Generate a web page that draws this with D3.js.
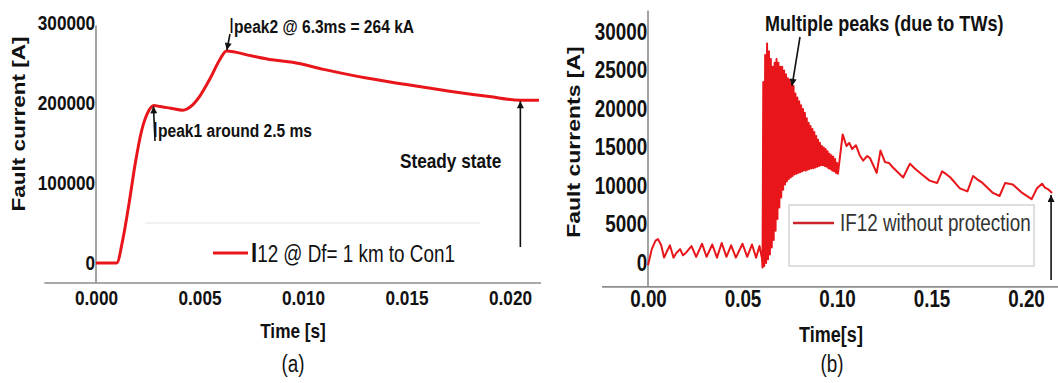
<!DOCTYPE html>
<html>
<head>
<meta charset="utf-8">
<script src="https://cdn.jsdelivr.net/npm/d3@7"></script>
<style>
  body { margin: 0; background: #fff; }
  svg text { font-family: 'Liberation Sans', Arial, sans-serif; fill: #111; }
</style>
</head>
<body>
<div id="chart"></div>
<script>
// ---- panel (a): I12 @ Df = 1 km to Con1 ----
const aTime = [0, 0.0010, 0.0013, 0.0016, 0.0019, 0.0022, 0.0025, 0.0028, 0.0031, 0.0036, 0.0042,
  0.0046, 0.0050, 0.0055, 0.0060, 0.0063, 0.0075, 0.0085, 0.0095, 0.0110, 0.0130, 0.0150,
  0.0170, 0.0190, 0.0205, 0.0214];
const aCurrent = [0, 0, 30000, 75000, 125000, 165000, 188000, 197000, 195500, 193500, 191000,
  196000, 208000, 230000, 255000, 265000, 259000, 254000, 251000, 242000, 231500, 223000,
  215000, 208000, 203500, 203500];
const aXTicks = [0, 0.005, 0.010, 0.015, 0.020];
const aYTicks = [0, 100000, 200000, 300000];

// ---- panel (b): IF12 without protection ----
const bPreTime = [0, 0.0020, 0.0040, 0.0053, 0.0070, 0.0085, 0.0100, 0.0116, 0.0135, 0.0150,
  0.0170, 0.0185, 0.0200, 0.0230, 0.0255, 0.0286, 0.0310, 0.0340, 0.0365, 0.0390, 0.0415,
  0.0440, 0.0465, 0.0500, 0.0525, 0.0550, 0.0572, 0.0590, 0.0603, 0.0606];
const bPreCurrent = [-300, 1800, 2900, 3100, 2300, 700, 1500, 2300, 700, 1300,
  1800, 1000, 1300, 2200, 800, 2500, 800, 2400, 700, 2600, 800,
  2300, 700, 2500, 800, 2400, 700, 2200, 600, -600];

const bBurstTime = [0.0610, 0.0615, 0.0620, 0.0625, 0.0630, 0.0635, 0.0640, 0.0645, 0.0650, 0.0655,
  0.0660, 0.0665, 0.0670, 0.0675, 0.0680, 0.0685, 0.0690, 0.0695, 0.0700, 0.0705,
  0.0710, 0.0715, 0.0720, 0.0725, 0.0730, 0.0735, 0.0740, 0.0745, 0.0750, 0.0755,
  0.0760, 0.0765, 0.0770, 0.0775, 0.0780, 0.0785, 0.0790, 0.0795, 0.0800, 0.0805,
  0.0810, 0.0815, 0.0820, 0.0825, 0.0830, 0.0835, 0.0840, 0.0845, 0.0850, 0.0855,
  0.0860, 0.0865, 0.0870, 0.0875, 0.0880, 0.0885, 0.0890, 0.0895, 0.0900, 0.0905,
  0.0910, 0.0915, 0.0920, 0.0925, 0.0930, 0.0935, 0.0940, 0.0945, 0.0950, 0.0955,
  0.0960, 0.0965, 0.0970, 0.0975, 0.0980, 0.0985, 0.0990, 0.0995, 0.1000];
const bBurstCurrent = [23500, -400, 27000, 0, 28500, 500, 27500, 1100, 26500, 2000,
  25500, 3000, 26000, 4200, 26500, 5700, 26000, 7200, 25500, 8500,
  25500, 9500, 25000, 10200, 24500, 10600, 24000, 10900, 23800, 11100,
  23300, 11300, 23000, 11500, 22000, 11600, 21500, 11700, 21000, 11800,
  20500, 11900, 20000, 12000, 19500, 12000, 18800, 12100, 18200, 12200,
  17800, 12300, 17400, 12300, 17000, 12400, 16500, 12500, 16000, 12600,
  15600, 12700, 15200, 12700, 15000, 12600, 14800, 12500, 14500, 12300,
  14200, 12200, 14000, 12000, 13800, 11900, 13500, 11700, 13000];

const bPostTime = [0.1005, 0.1030, 0.1050, 0.1065, 0.1080, 0.1100, 0.1120, 0.1138, 0.1160, 0.1175,
  0.1210, 0.1230, 0.1254, 0.1275, 0.1296, 0.1350, 0.1386, 0.1410, 0.1440, 0.1490,
  0.1530, 0.1556, 0.1580, 0.1600, 0.1650, 0.1690, 0.1720, 0.1740, 0.1770, 0.1825,
  0.1860, 0.1890, 0.1930, 0.1980, 0.2030, 0.2058, 0.2085, 0.2100, 0.2116, 0.2138];
const bPostCurrent = [11600, 16700, 15200, 15600, 14800, 15300, 14000, 13300, 13900, 13600,
  11700, 14600, 13100, 13000, 12400, 11100, 12900, 12300, 11700, 10700,
  10400, 11900, 11500, 11100, 9700, 9300, 11300, 10900, 10400, 9100,
  8700, 10400, 10200, 9100, 8300, 9700, 10300, 9800, 9600, 9100];
const bXTicks = [0, 0.05, 0.10, 0.15, 0.20];
const bYTicks = [0, 5000, 10000, 15000, 20000, 25000, 30000];

const W = 1058, H = 383;
const SQ = 0.82; // the source figure is squeezed horizontally
const RED = '#e8161b';
const AXIS = '#8c8c8c';

const svg = d3.select('#chart').append('svg')
  .attr('width', W)
  .attr('height', H);

const defs = svg.append('defs');
defs.append('marker')
  .attr('id', 'arrow')
  .attr('viewBox', '0 0 10 10')
  .attr('refX', 10).attr('refY', 5)
  .attr('markerWidth', 10).attr('markerHeight', 7)
  .attr('markerUnits', 'userSpaceOnUse')
  .attr('orient', 'auto')
  .append('path')
  .attr('d', 'M0,0 L10,5 L0,10 z')
  .attr('fill', '#111');

// horizontal text, squeezed like the source
function label(x, y, txt, size, opts = {}) {
  const t = svg.append('text')
    .attr('transform', `translate(${x},${y}) scale(${SQ},1)`)
    .attr('font-size', size)
    .attr('font-weight', opts.weight || 'bold')
    .attr('text-anchor', opts.anchor || 'start');
  if (opts.fill) t.style('fill', opts.fill);
  if (txt !== null) t.text(txt);
  return t;
}

function yLabel(x, y, txt, size) {
  svg.append('text')
    .attr('transform', `translate(${x},${y}) rotate(-90) scale(1,${SQ})`)
    .attr('font-size', size)
    .attr('font-weight', 'bold')
    .attr('text-anchor', 'middle')
    .text(txt);
}

function arrow(x1, y1, x2, y2) {
  svg.append('line')
    .attr('x1', x1).attr('y1', y1)
    .attr('x2', x2).attr('y2', y2)
    .attr('stroke', '#111')
    .attr('stroke-width', 1.6)
    .attr('marker-end', 'url(#arrow)');
}

function drawAxes(x, y, xTicks, yTicks, xFmt, fontSize, xPad, xExt, yExt) {
  const g = svg.append('g');
  // axis lines (they run past the tick range like in the source)
  g.append('line')
    .attr('x1', x(xExt[0])).attr('x2', x(xExt[1]))
    .attr('y1', y(yExt[0])).attr('y2', y(yExt[0]))
    .attr('stroke', AXIS).attr('stroke-width', 1.6);
  g.append('line')
    .attr('x1', x(0)).attr('x2', x(0))
    .attr('y1', y(yExt[0])).attr('y2', y(yExt[1]))
    .attr('stroke', AXIS).attr('stroke-width', 1.6);

  const xa = g.append('g')
    .attr('transform', `translate(0,${y(yExt[0])})`)
    .call(d3.axisBottom(x).tickValues(xTicks).tickSize(0).tickPadding(xPad).tickFormat(xFmt));
  const ya = g.append('g')
    .attr('transform', `translate(${x(0)},0)`)
    .call(d3.axisLeft(y).tickValues(yTicks).tickSize(0).tickPadding(1).tickFormat(d3.format('d')));
  [xa, ya].forEach(a => {
    a.select('.domain').remove();
    a.selectAll('text')
      .attr('font-size', fontSize)
      .attr('font-weight', 'bold')
      .attr('font-family', null)
      .attr('transform', `scale(${SQ},1)`);
    a.attr('font-family', null).attr('font-size', null);
  });
}

// ================= panel (a) =================
const ax = d3.scaleLinear().domain([0, 0.02]).range([96, 510]);
const ay = d3.scaleLinear().domain([0, 300000]).range([263, 23]);

drawAxes(ax, ay, aXTicks, aYTicks, d3.format('.3f'), 21, 7, [-0.0025, 0.0215], [-25000, 297000]);

// legend frame top edge
svg.append('line')
  .attr('x1', 145).attr('x2', 480)
  .attr('y1', 223).attr('y2', 223)
  .attr('stroke', '#ececec').attr('stroke-width', 1.5);

const aData = aTime.map((t, i) => ({ t, v: aCurrent[i] }));
svg.append('path')
  .datum(aData)
  .attr('fill', 'none')
  .attr('stroke', RED)
  .attr('stroke-width', 3)
  .attr('stroke-linejoin', 'round')
  .attr('d', d3.line().x(d => ax(d.t)).y(d => ay(d.v)).curve(d3.curveMonotoneX));

// legend (a)
svg.append('line')
  .attr('x1', 213).attr('x2', 248)
  .attr('y1', 253).attr('y2', 253)
  .attr('stroke', RED).attr('stroke-width', 3);
const la = label(251, 262, null, 23, { weight: 'normal' });
la.append('tspan').attr('font-size', 27).attr('font-weight', 'bold').text('I');
la.append('tspan').text('12 @ Df= 1 km to Con1');

// annotations (a)
const pk2 = aData[15];
const p2 = label(229, 33, null, 19);
p2.append('tspan').attr('font-size', 22).attr('font-weight', 'normal').text('I');
p2.append('tspan').text('peak2 @ 6.3ms = 264 kA');
arrow(230, 34, ax(pk2.t) + 0.5, ay(pk2.v) - 1);

const pk1 = aData[7];
const p1 = label(153, 137, null, 19);
p1.append('tspan').attr('font-size', 22).attr('font-weight', 'normal').text('I');
p1.append('tspan').text('peak1 around 2.5 ms');
arrow(155, 141, ax(pk1.t) - 0.5, ay(pk1.v) + 1);

label(400, 168, 'Steady state', 21);
const ss = aData[aData.length - 2];
arrow(ax(ss.t), 247, ax(ss.t), ay(ss.v) + 1);

label(293, 338, 'Time [s]', 21, { anchor: 'middle' });
label(293, 372, '(a)', 23, { anchor: 'middle', weight: 'normal' });
yLabel(25, 124, 'Fault current [A]', 22.5);

// ================= panel (b) =================
const bx = d3.scaleLinear().domain([0, 0.2]).range([648, 1026]);
const by = d3.scaleLinear().domain([0, 30000]).range([263, 32]);

drawAxes(bx, by, bXTicks, bYTicks, d3.format('.2f'), 23, 4, [-0.0243, 0.2175], [-3100, 32800]);

const bTime = bPreTime.concat(bBurstTime, bPostTime);
const bCurrent = bPreCurrent.concat(bBurstCurrent, bPostCurrent);
const bData = bTime.map((t, i) => ({ t, v: bCurrent[i] }));
svg.append('path')
  .datum(bData)
  .attr('fill', 'none')
  .attr('stroke', RED)
  .attr('stroke-width', 2)
  .attr('stroke-linejoin', 'round')
  .attr('d', d3.line().x(d => bx(d.t)).y(d => by(d.v)));

// legend (b)
svg.append('rect')
  .attr('x', 789).attr('y', 205)
  .attr('width', 245).attr('height', 61)
  .attr('fill', '#fff')
  .attr('stroke', '#d4d4d4').attr('stroke-width', 1.5);
svg.append('line')
  .attr('x1', 793).attr('x2', 834)
  .attr('y1', 223).attr('y2', 223)
  .attr('stroke', '#cc2229').attr('stroke-width', 2.5);
label(840, 231, 'IF12 without protection', 23, { weight: 'normal', fill: '#333' });

// annotations (b)
label(765, 31, 'Multiple peaks (due to TWs)', 22);
arrow(800, 37, bx(0.0762), by(23000));
const bEnd = bData[bData.length - 1];
arrow(bx(bEnd.t) - 1, 280, bx(bEnd.t) - 1, by(bEnd.v) + 2);

label(831, 342, 'Time[s]', 22, { anchor: 'middle' });
label(832, 372, '(b)', 23, { anchor: 'middle', weight: 'normal' });
yLabel(580, 142, 'Fault currents [A]', 23);
</script>
</body>
</html>
